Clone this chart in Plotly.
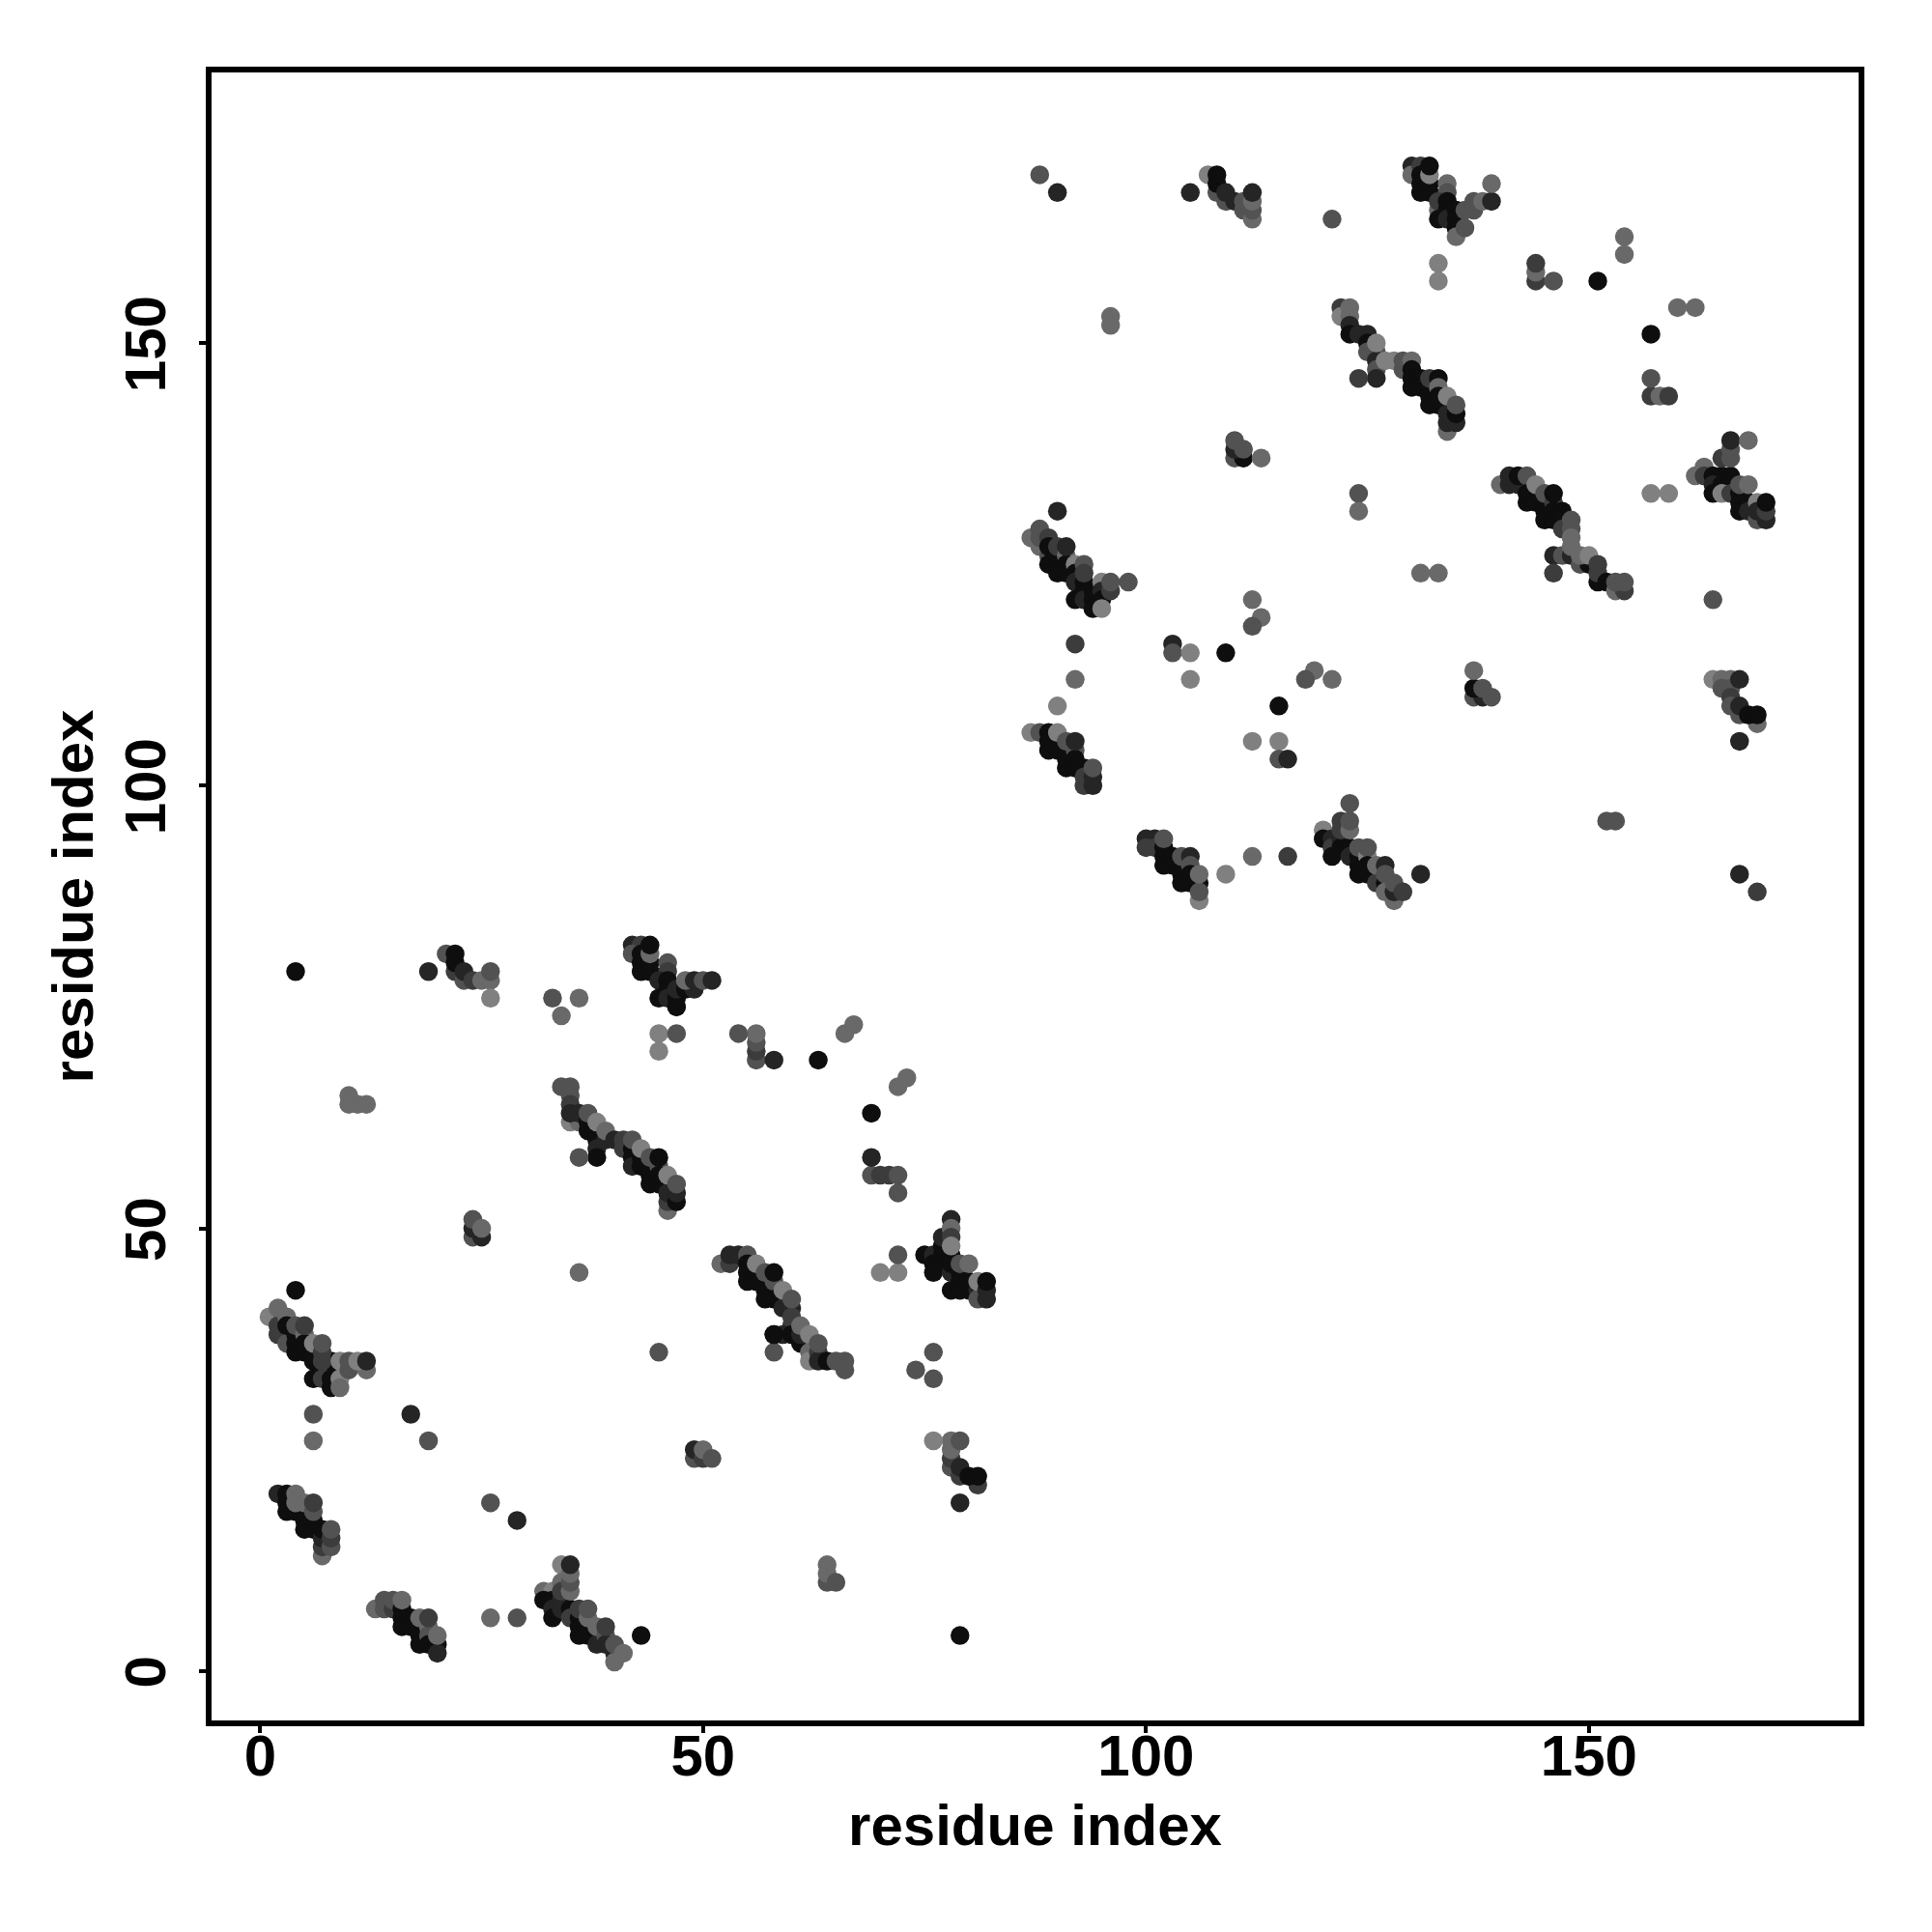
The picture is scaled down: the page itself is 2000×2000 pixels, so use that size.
import plotly.graph_objects as go

# Each contact: (residue x, residue y, shade level 0=darkest .. 5=lightest)
block_a = [(1,40,5),(2,39,2),(2,38,2),(3,37,3),(2,41,4),(3,40,4),(3,39,0),(4,38,0),(4,37,0),(4,36,0),(4,39,3),(5,38,4),(5,37,0),(5,36,0),(5,39,2),(6,36,0),(6,35,0),(6,33,0),(6,37,5),(7,34,0),(7,33,2),(8,34,2),(8,33,0),(8,35,0),(8,32,0),(7,35,2),(7,36,2),(7,37,3),(9,34,0),(9,35,5),(9,33,5),(9,32,4),(10,34,3),(10,35,3),(12,34,4),(11,35,5),(12,35,1)]
block_b = [(2,20,1),(3,20,0),(3,19,0),(3,18,0),(4,18,0),(5,18,0),(5,17,0),(5,16,0),(6,16,0),(6,17,0),(4,19,4),(4,20,4),(5,19,4),(6,18,3),(6,19,2),(7,13,4),(7,14,2),(7,15,1),(7,16,0),(8,14,3),(8,15,2),(8,16,3)]
block_c = [(13,7,4),(14,7,3),(14,8,3),(15,7,2),(15,8,3),(16,7,0),(16,6,0),(16,5,0),(17,6,0),(17,5,0),(18,5,0),(18,4,0),(18,3,0),(16,8,4),(18,6,4),(19,5,4),(19,4,3),(19,3,0),(19,6,2),(20,3,0),(20,2,1),(20,4,4)]
block_d = [(32,9,4),(33,9,5),(32,8,0),(33,8,0),(33,7,1),(33,6,0),(34,8,1),(34,7,1),(35,7,0),(35,6,2),(34,12,5),(34,10,4),(34,9,2),(35,9,4),(35,10,3),(35,11,4),(35,12,1),(36,6,0),(36,5,0),(36,4,0),(37,5,0),(37,4,0),(38,4,0),(38,3,1),(36,7,2),(37,6,4),(37,7,3),(38,5,4),(39,4,3),(39,3,1),(40,2,1),(39,5,2),(40,1,4),(40,3,3),(41,2,4)]
block_e = [(52,46,4),(53,46,2),(53,47,1),(54,47,1),(55,47,3),(55,46,0),(55,45,0),(55,44,0),(56,45,0),(56,44,0),(57,44,0),(57,43,0),(57,42,0),(58,44,3),(58,42,0),(56,46,5),(57,45,3),(58,45,0),(59,41,1),(60,41,1),(60,40,2),(60,39,2),(58,38,0),(59,38,1),(60,38,0),(61,37,0),(62,37,0),(61,38,1),(59,43,5),(60,42,3),(61,39,4),(62,38,5),(62,36,4),(62,35,5),(63,36,2),(63,35,1),(64,35,0),(63,37,3),(65,35,3),(66,34,3),(66,35,3)]
block_f = [(75,47,0),(76,47,1),(76,46,0),(76,45,0),(77,46,0),(77,47,0),(77,48,0),(77,49,1),(78,45,1),(78,46,0),(78,47,0),(78,43,0),(79,45,0),(79,44,0),(79,43,0),(80,44,0),(80,43,0),(78,51,1),(78,50,4),(78,49,2),(78,48,5),(79,46,3),(80,46,4),(81,43,1),(81,42,3),(81,44,5),(82,42,1),(82,43,1),(82,44,0)]
block_g = [(42,82,1),(43,82,2),(42,81,3),(43,81,0),(43,80,0),(43,79,0),(44,80,0),(44,79,0),(44,81,4),(44,82,0),(46,80,3),(46,79,2),(45,78,1),(46,78,0),(45,76,0),(46,77,0),(46,76,1),(47,76,0),(47,75,0),(47,77,1),(48,77,0),(49,77,1),(48,78,4),(49,78,1),(50,78,3),(51,78,1)]
block_h = [(34,66,3),(35,66,3),(35,65,3),(35,64,2),(35,62,5),(36,62,4),(35,63,1),(36,63,1),(37,62,0),(37,61,0),(38,61,0),(38,60,0),(38,59,1),(38,58,0),(37,63,3),(38,62,5),(39,60,1),(39,61,4),(40,60,1),(41,60,2),(41,59,2),(42,59,0),(42,58,0),(42,57,1),(43,58,0),(43,57,0),(44,57,0),(44,56,0),(44,55,0),(42,60,3),(43,59,5),(44,58,3),(45,57,3),(45,58,0),(45,56,0),(45,55,0),(46,55,0),(46,52,4),(46,53,2),(46,54,1),(47,53,0),(47,54,1),(46,56,5),(47,55,3)]
block_i = [(87,128,4),(88,127,4),(88,128,3),(88,129,3),(89,126,3),(89,128,2),(89,127,0),(89,125,0),(90,126,0),(90,125,0),(90,124,0),(90,127,2),(91,126,4),(91,125,0),(91,124,0),(91,127,1),(92,125,5),(92,124,0),(92,123,1),(92,121,0),(93,123,0),(93,122,0),(93,121,1),(93,125,3),(93,124,2),(94,122,0),(94,121,0),(94,120,0),(95,123,5),(95,122,1),(95,121,0),(95,120,5),(96,122,2),(96,123,3)]
block_j = [(87,106,5),(88,106,3),(89,106,0),(89,105,0),(89,104,0),(90,105,0),(90,104,0),(91,104,0),(91,103,0),(91,102,0),(90,106,5),(91,105,3),(92,104,3),(92,103,0),(92,102,0),(92,105,1),(93,102,0),(93,101,2),(93,100,2),(94,100,1),(94,101,1),(94,102,3)]
block_k = [(100,94,1),(101,94,1),(100,93,2),(101,93,2),(102,93,0),(102,92,0),(102,91,0),(103,92,0),(103,91,0),(104,91,0),(104,90,0),(104,89,0),(102,94,3),(104,92,3),(105,92,1),(105,91,3),(105,90,0),(105,89,0),(106,89,0),(106,87,5),(106,88,3),(106,90,4)]
block_l = [(120,95,5),(120,94,0),(121,94,1),(121,93,2),(121,92,0),(122,94,1),(122,93,0),(122,95,2),(122,96,2),(123,93,0),(123,92,1),(124,92,0),(124,91,0),(124,90,0),(123,95,4),(123,96,3),(124,93,3),(125,92,5),(125,93,3),(125,91,0),(125,90,0),(126,90,0),(126,89,2),(127,89,0),(126,91,4),(127,91,1),(127,90,3),(128,87,4),(127,88,4),(128,88,1),(128,89,3),(129,88,2)]
block_m = [(140,134,4),(141,134,1),(142,134,1),(141,135,1),(142,135,0),(143,135,3),(143,133,0),(143,132,0),(144,133,0),(144,132,0),(145,132,0),(145,131,0),(145,130,0),(144,134,5),(145,133,3),(146,132,2),(146,131,0),(146,130,0),(147,131,0),(147,130,0),(146,133,0),(147,129,2),(148,130,3),(148,129,3),(148,128,4),(146,126,1),(147,126,3),(148,126,1),(149,125,3),(150,125,0),(148,127,4),(149,126,4),(150,126,5),(151,123,0),(151,124,2),(151,125,2),(152,123,0),(153,122,4),(154,122,2),(153,123,3),(154,123,3)]
block_n = [(162,135,4),(163,136,4),(163,135,2),(164,135,0),(165,135,0),(166,135,0),(165,137,2),(166,137,3),(166,138,3),(166,139,1),(164,134,1),(165,134,0),(166,134,0),(164,133,0),(165,133,5),(166,133,2),(167,133,0),(167,132,0),(167,131,0),(168,132,0),(168,131,1),(167,134,3),(168,134,4),(169,132,5),(169,130,3),(169,131,1),(170,130,1),(170,131,2),(170,132,0)]
block_o = [(164,112,5),(165,112,4),(166,112,4),(165,111,3),(166,111,3),(166,110,2),(166,109,3),(167,108,3),(167,109,1),(167,112,1),(169,107,4),(168,108,0),(169,108,0)]
block_p = [(122,154,2),(122,153,5),(123,154,4),(123,153,4),(123,152,1),(123,151,0),(124,151,1),(125,151,1),(125,150,0),(125,149,3),(126,149,3),(126,148,1),(126,147,3),(126,146,1),(126,150,5),(127,148,5),(128,148,5),(129,147,3),(129,148,3),(130,148,4),(130,147,0),(130,146,0),(130,145,0),(131,146,0),(131,145,0),(132,145,0),(132,144,0),(132,143,0),(132,146,2),(133,146,0),(133,145,4),(133,144,0),(133,143,0),(134,143,0),(134,140,4),(134,141,1),(134,142,1),(135,141,1),(135,142,0),(134,144,5),(135,143,3)]
block_r = [(130,170,1),(130,169,4),(131,170,2),(131,169,0),(131,168,0),(131,167,0),(132,168,0),(132,167,0),(132,169,5),(132,170,0),(134,168,4),(134,167,3),(133,165,4),(133,166,2),(133,164,0),(134,166,0),(134,165,0),(134,164,1),(135,165,0),(135,164,0),(135,163,0),(135,162,4),(136,163,3),(136,165,3),(137,165,3),(137,166,3),(138,166,4),(139,166,1)]
block_s = [(107,169,5),(108,167,3),(108,168,0),(108,169,0),(109,166,3),(109,167,1),(110,166,1),(111,165,3),(111,166,3),(112,164,4),(112,165,3),(112,166,4),(112,167,1)]
block_t = [(21,81,3),(22,79,2),(22,80,0),(22,81,0),(23,78,3),(23,79,1),(24,78,2),(25,78,4),(26,78,4),(26,79,3)]
block_u = [(78,23,3),(78,24,2),(78,25,4),(78,26,4),(79,22,2),(79,23,1),(79,26,3),(81,21,2),(80,22,0),(81,22,0)]
small_groups = [(49,24,3),(49,25,1),(50,24,2),(50,25,4),(51,24,3),(64,10,3),(64,11,4),(64,12,4),(65,10,3),(10,65,4),(10,64,4),(11,64,4),(12,64,4),(24,49,3),(25,49,1),(24,50,1),(24,51,3),(25,50,4),(56,69,3),(56,70,2),(56,71,3),(56,72,4),(110,137,3),(111,137,0),(110,138,1),(110,139,3),(111,138,3),(113,137,4),(137,110,3),(138,110,1),(137,111,0),(137,113,4),(138,111,3),(139,110,3),(144,157,2),(144,158,4),(144,159,2),(157,144,2),(158,144,4),(159,144,2),(69,56,3),(70,56,2),(71,56,2),(72,56,3)]
isolated = [(4,43,0),(36,45,4),(6,29,3),(6,26,4),(17,29,1),(19,26,3),(26,19,3),(29,17,1),(26,6,4),(29,6,3),(43,4,0),(79,4,0),(45,36,3),(58,36,3),(58,38,0),(76,36,3),(74,34,3),(76,33,3),(70,45,5),(72,45,5),(72,47,3),(76,26,5),(79,19,1),(45,72,5),(47,72,3),(45,70,5),(54,72,3),(58,69,1),(63,69,0),(66,72,4),(67,73,4),(72,66,4),(73,67,4),(69,63,0),(69,58,1),(72,54,3),(36,58,3),(4,79,0),(19,79,1),(26,76,5),(33,76,3),(36,76,4),(34,74,4),(124,133,3),(124,131,4),(90,131,1),(98,123,3),(92,116,2),(92,112,4),(90,109,5),(103,116,1),(103,115,3),(105,115,5),(105,112,5),(109,115,0),(112,121,4),(113,119,4),(112,118,3),(115,109,0),(112,105,5),(115,105,5),(115,103,3),(116,103,1),(119,113,4),(118,112,3),(121,112,4),(123,98,3),(109,90,5),(112,92,4),(116,92,2),(131,90,1),(131,124,4),(133,124,4),(152,96,3),(153,96,3),(167,90,1),(169,88,2),(167,105,1),(164,121,3),(146,124,2),(157,133,5),(159,133,5),(88,169,3),(90,167,1),(105,167,1),(121,164,3),(96,153,4),(96,152,4),(124,146,2),(139,168,4),(133,159,5),(133,157,5),(146,157,3),(151,157,0),(154,162,4),(154,160,4),(160,154,4),(162,154,4),(157,151,0),(157,146,3),(168,139,4)]

tick_values = [0, 50, 100, 150]
axis_title = "residue index"

blocks = [block_a, block_b, block_c, block_d, block_e, block_f, block_g, block_h, block_i,
          block_j, block_k, block_l, block_m, block_n, block_o, block_p, block_r, block_s,
          block_t, block_u, small_groups, isolated]
points = [p for b in blocks for p in b]

fig = go.Figure(go.Scatter(
    x=[p[0] for p in points], y=[p[1] for p in points], mode="markers",
    marker=dict(size=19.5, color=[p[2] for p in points], cmin=0, cmax=5,
                colorscale=[[0, "#0e0e0e"], [1, "#808080"]], showscale=False, line=dict(width=0)),
    hoverinfo="skip"))

font = dict(family="Liberation Sans", size=60, color="black", weight="bold")
axis = dict(tickvals=tick_values, ticks="outside", ticklen=7, tickwidth=4, tickcolor="black",
            showline=True, linecolor="black", linewidth=5.7, mirror=True, showgrid=False,
            zeroline=False, tickfont=font, title=dict(text=axis_title, font=font))
fig.update_layout(
    width=2000, height=2000, autosize=False, plot_bgcolor="white", paper_bgcolor="white",
    margin=dict(l=211.3, r=83.8, t=66.8, b=226.8), showlegend=False,
    xaxis=dict(axis, range=[-5.49, 180.44], ticklabelstandoff=-28),
    yaxis=dict(axis, range=[-5.59, 180.56], tickangle=-90, ticklabelstandoff=11, ticklabelshift=10),
)
fig.update_xaxes(title_standoff=20)
fig.update_yaxes(title_standoff=3)
fig.write_html("out.html")
